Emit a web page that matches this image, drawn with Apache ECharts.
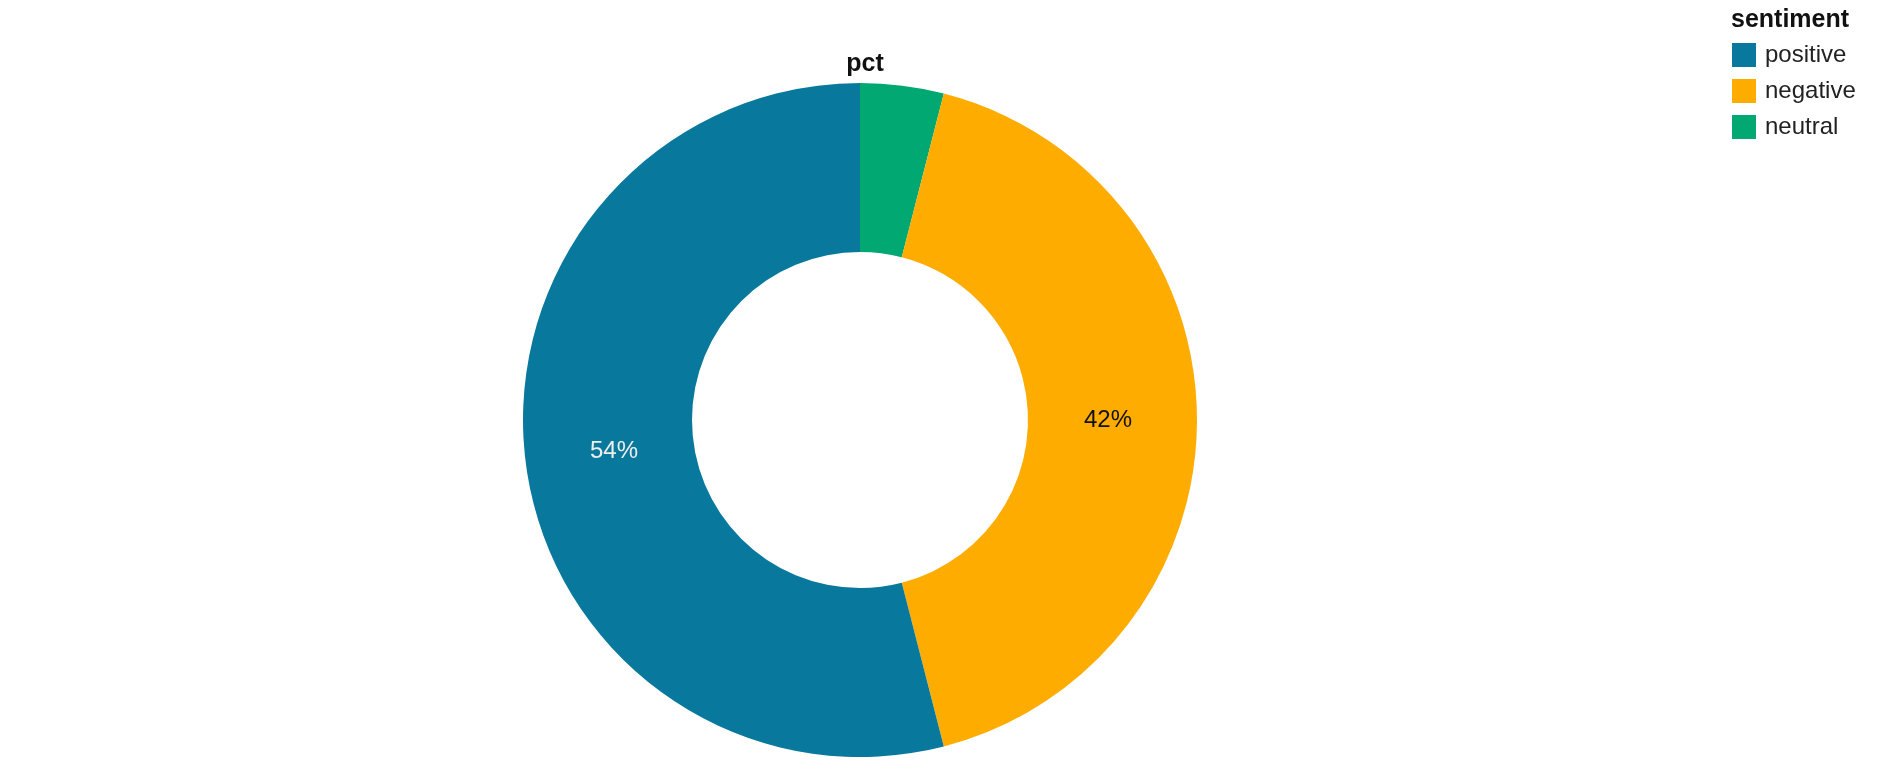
<!DOCTYPE html>
<html>
<head>
<meta charset="utf-8">
<script src="https://cdn.jsdelivr.net/npm/echarts@6/dist/echarts.min.js"></script>
<style>
  html, body { margin: 0; padding: 0; background: #fff; }
  #main { width: 1878px; height: 768px; }
</style>
</head>
<body>
<div id="main"></div>
<script>
// slices clockwise from 12 o'clock
var sentiments = ['neutral', 'negative', 'positive'];
var pct = [4, 42, 54];
var legendOrder = ['positive', 'negative', 'neutral'];
var sliceColors = { positive: '#08799c', negative: '#feac00', neutral: '#02a871' };
var labelColors = { positive: '#eeeeee', negative: '#111111', neutral: '#111111' };
var hideLabel = ['neutral'];

var font = '"Liberation Sans", Arial, Helvetica, sans-serif';

var pieData = [];
var labelData = [];
for (var i = 0; i < sentiments.length; i++) {
  var name = sentiments[i];
  pieData.push({
    name: name,
    value: pct[i],
    itemStyle: { color: sliceColors[name] }
  });
  // invisible twin ring, only used to place the text a bit nearer the hole
  labelData.push({
    name: name,
    value: pct[i],
    itemStyle: { color: 'rgba(0,0,0,0)' },
    label: {
      show: hideLabel.indexOf(name) < 0,
      color: labelColors[name]
    }
  });
}

var chart = echarts.init(document.getElementById('main'), null, { renderer: 'canvas' });
chart.setOption({
  animation: false,
  backgroundColor: '#ffffff',
  title: [{
    text: 'pct',
    left: 860,
    textAlign: 'center',
    top: 47,
    textStyle: { fontFamily: font, fontSize: 25, fontWeight: 'bold', color: '#111' }
  }, {
    text: 'sentiment',
    left: 1731,
    top: 8,
    padding: 0,
    textStyle: { fontFamily: font, fontSize: 25, fontWeight: 'bold', color: '#111' }
  }],
  legend: {
    data: legendOrder,
    orient: 'vertical',
    left: 1732,
    top: 43,
    padding: 0,
    icon: 'rect',
    itemWidth: 24,
    itemHeight: 24,
    itemGap: 12,
    selectedMode: false,
    textStyle: { fontFamily: font, fontSize: 24, color: '#222', padding: [0, 0, 0, 4] }
  },
  series: [{
    type: 'pie',
    center: [860, 420],
    radius: [168, 337],
    startAngle: 90,
    clockwise: true,
    silent: true,
    label: { show: false },
    labelLine: { show: false },
    itemStyle: { borderWidth: 0 },
    data: pieData
  }, {
    type: 'pie',
    center: [860, 420],
    radius: [168, 322],
    startAngle: 90,
    clockwise: true,
    silent: true,
    avoidLabelOverlap: false,
    label: {
      position: 'inside',
      formatter: '{c}%',
      fontFamily: font,
      fontSize: 24
    },
    labelLine: { show: false },
    data: labelData
  }]
});
</script>
</body>
</html>
